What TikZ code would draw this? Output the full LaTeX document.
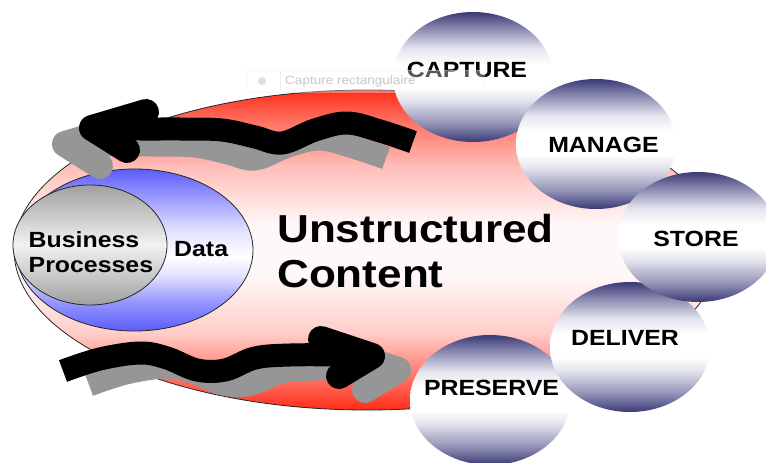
\documentclass[tikz,border=0pt]{standalone}
\usepackage{fontspec}
\setmainfont{Liberation Sans}[FakeStretch=1.13]
\usetikzlibrary{shapes.geometric}
\definecolor{cRed}{RGB}{255,45,25}
\definecolor{cRedB}{RGB}{255,115,100}
\definecolor{cPink}{RGB}{255,190,185}
\definecolor{cPinkB}{RGB}{255,205,200}
\definecolor{cPale}{RGB}{255,248,248}
\definecolor{cNavy}{RGB}{58,58,118}
\definecolor{cLav}{RGB}{145,145,182}
\definecolor{cLavB}{RGB}{228,228,238}
\definecolor{cBlue}{RGB}{92,92,250}
\definecolor{cBlueB}{RGB}{150,150,255}
\definecolor{cBlueC}{RGB}{225,225,255}
\definecolor{cBlueD}{RGB}{170,170,255}
\definecolor{cGrayD}{RGB}{160,160,160}
\definecolor{cGrayL}{RGB}{242,242,242}
\definecolor{cShadow}{RGB}{150,150,150}
\pgfdeclareverticalshading{redsh}{100bp}{color(0bp)=(cRed); color(25bp)=(cRed); color(30bp)=(cRedB); color(37bp)=(cPinkB); color(46bp)=(cPale); color(54bp)=(cPale); color(63bp)=(cPink); color(70bp)=(cRedB); color(75bp)=(cRed); color(100bp)=(cRed)}
\pgfdeclareverticalshading{navysh}{100bp}{color(0bp)=(cNavy); color(25bp)=(cNavy); color(32bp)=(cLav); color(41bp)=(cLavB); color(46bp)=(white); color(55bp)=(white); color(61bp)=(cLavB); color(68bp)=(cLav); color(75bp)=(cNavy); color(100bp)=(cNavy)}
\pgfdeclareverticalshading{bluesh}{100bp}{color(0bp)=(cBlue); color(25bp)=(cBlue); color(34bp)=(cBlueB); color(42bp)=(cBlueC); color(48bp)=(white); color(56bp)=(cBlueC); color(64bp)=(cBlueD); color(75bp)=(cBlue); color(100bp)=(cBlue)}
\pgfdeclareverticalshading{graysh}{100bp}{color(0bp)=(cGrayD); color(25bp)=(cGrayD); color(50bp)=(cGrayL); color(75bp)=(cGrayD); color(100bp)=(cGrayD)}
\tikzset{
  oval/.style={ellipse, inner sep=0pt, draw=black!85, line width=0.8pt},
  phase/.style={ellipse, inner sep=0pt, minimum width=160pt, minimum height=130pt, shading=navysh},
  lbl/.style={inner sep=0pt, font=\fontsize{22}{26}\selectfont\bfseries},
  small/.style={inner sep=0pt, font=\fontsize{22}{25}\selectfont\bfseries, align=left},
  shaft/.style={line width=23pt, line cap=butt, line join=round},
  barb/.style={line width=26pt, line cap=round, line join=round}
}
\newcommand\toparrow[1]{%
  \draw[shaft,#1] plot[smooth,tension=0.6] coordinates {(413,142) (380,131) (347,123) (315,130) (282,143) (255,137) (222,130) (180,129) (140,129) (92,128)};
  \draw[barb,#1] (146,112) -- (92,128) -- (127,150);}
\newcommand\botarrow[1]{%
  \draw[shaft,#1] plot[smooth,tension=0.6] coordinates {(63,371) (100,359) (140,353) (167,358) (197,370) (225,370) (255,358) (290,355) (340,355) (372,356)};
  \draw[barb,#1] (321,339) -- (372,356) -- (339,376);}
\begin{document}
\begin{tikzpicture}[x=1pt,y=-1pt]
\useasboundingbox[fill=white] (0,0) rectangle (766,463);
% main ellipses
\node[oval, minimum width=706pt, minimum height=320pt, shading=redsh] (content) at (367,250) {};
\node[oval, minimum width=237pt, minimum height=162pt, shading=bluesh] (data) at (134.5,250) {};
\node[oval, minimum width=154pt, minimum height=120pt, shading=graysh] (bp) at (90,245) {};
% wavy arrows with shadows
\begin{scope}[shift={(-27,16)}]\toparrow{cShadow}\end{scope}
\toparrow{black}
\begin{scope}[shift={(26,14)}]\botarrow{cShadow}\end{scope}
\botarrow{black}
% lifecycle circles
\node[phase] (preserve) at (490,400) {};
\node[phase] (deliver) at (630,347) {};
\node[phase] (capture) at (473,77) {};
\node[phase] (manage) at (596,144) {};
\node[phase] (store) at (698,237) {};
% texts
\node[lbl] (tcapture) at (467,70) {CAPTURE};
\node[lbl] (tmanage) at (603.5,145) {MANAGE};
\node[lbl] (tstore) at (696,238.5) {STORE};
\node[lbl] (tdeliver) at (625,338) {DELIVER};
\node[lbl] (tpreserve) at (491.5,388) {PRESERVE};
\node[small, anchor=west] (tbp) at (28.5,252) {Business\\Processes};
\node[small, anchor=west] (tdata) at (174,249) {Data};
\node[inner sep=0pt, anchor=west, align=left, font=\fontsize{39}{45}\selectfont\bfseries] (tcontent) at (277,251.5) {Unstructured\\Content};
% faint screen-capture tooltip overlay
\node[draw=gray!14, fill=white, fill opacity=0.35, draw opacity=1, rounded corners=2pt, minimum width=237pt, minimum height=22pt, anchor=north west, inner sep=0pt] (tip) at (247,70) {};
\draw[gray!14] (280,71) -- (280,91);
\fill[gray!25] (262,81) circle[radius=4];
\node[inner sep=0pt, anchor=west, text=gray!45, font=\fontsize{12}{14}\selectfont] (tiptext) at (285,81) {Capture rectangulaire};
\end{tikzpicture}
\end{document}
